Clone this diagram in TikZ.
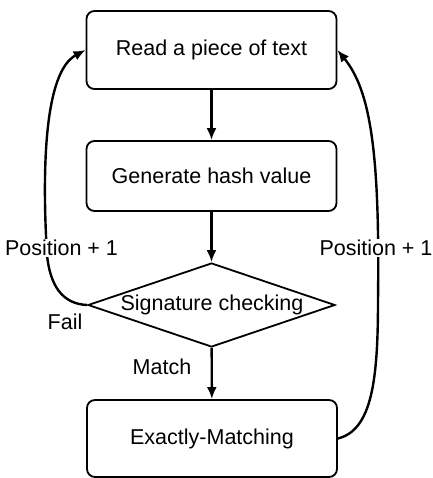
\documentclass[tikz,border=0pt]{standalone}
\usepackage{fontspec}
\setmainfont{Liberation Sans}
\usetikzlibrary{shapes.geometric,arrows.meta}
\begin{document}
\begin{tikzpicture}[x=1pt,y=-1pt,
  every node/.style={font=\fontsize{21.5}{24}\selectfont},
  procbox/.style={draw,line width=1.8pt,rounded corners=8pt,minimum width=250pt,inner sep=0pt},
  decbox/.style={draw,diamond,line width=1.8pt,minimum width=247pt,minimum height=84pt,inner sep=0pt},
  flow/.style={line width=2.4pt,-{Latex[length=12pt,width=10pt]}},
  lbl/.style={fill=white,inner sep=1pt}]
\useasboundingbox (0,0) rectangle (432,478);
\node[procbox,minimum height=78pt] (read) at (211.5,50) {Read a piece of text};
\node[procbox,minimum height=70pt] (hash) at (211.5,176) {Generate hash value};
\node[decbox] (sig) at (211.5,305) {};
\node (sigtxt) at (212,305) {Signature checking};
\node[procbox,minimum height=77pt] (exact) at (212,438.5) {Exactly-Matching};
\draw[flow] (read) -- (hash);
\draw[flow] (hash) -- (sig);
\draw[flow] (sig) -- (exact);
\draw[flow] (sig.west) .. controls (62,304) and (50,285) .. (47,255)
  .. controls (42,170) and (44,72) .. (read.west);
\draw[flow] (exact.east) .. controls (372,430) and (378,380) .. (378,300)
  .. controls (380,150) and (370,90) .. (read.east);
\node[lbl] (posl) at (61.5,248) {Position + 1};
\node[lbl] (posr) at (376,248) {Position + 1};
\node (fail) at (65,322) {Fail};
\node (match) at (162,367) {Match};
\end{tikzpicture}
\end{document}
